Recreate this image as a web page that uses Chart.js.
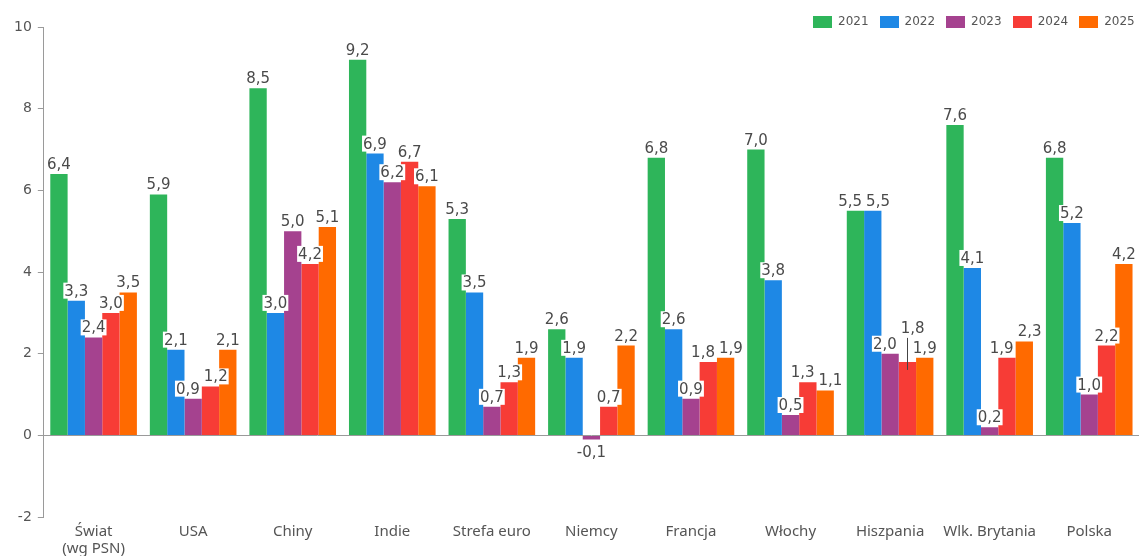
<!DOCTYPE html>
<html>
<head>
<meta charset="utf-8">
<script src="https://cdn.jsdelivr.net/npm/chart.js@4.4.1/dist/chart.umd.min.js"></script>
<style>
  html, body { margin: 0; padding: 0; background: #fff; }
  #wrap { position: relative; width: 1139px; height: 556px; }
  #legend { position: absolute; top: 15px; left: 813px; display: flex; font: 12px "DejaVu Sans", sans-serif; color: #555; }
  .item { display: flex; align-items: center; margin-right: 11px; line-height: 13px; }
  .swatch { width: 19px; height: 12px; margin-right: 6px; }
</style>
</head>
<body>
<div id="wrap">
  <canvas id="gdp-chart"></canvas>
  <div id="legend"></div>
</div>
<script>
'use strict';

// Data
const categories = [["Świat", "(wg PSN)"], "USA", "Chiny", "Indie", "Strefa euro", "Niemcy", "Francja", "Włochy", "Hiszpania", "Wlk. Brytania", "Polska"];
const years = ["2021", "2022", "2023", "2024", "2025"];
const growth2021 = [6.4, 5.9, 8.5, 9.2, 5.3, 2.6, 6.8, 7.0, 5.5, 7.6, 6.8];
const growth2022 = [3.3, 2.1, 3.0, 6.9, 3.5, 1.9, 2.6, 3.8, 5.5, 4.1, 5.2];
const growth2023 = [2.4, 0.9, 5.0, 6.2, 0.7, -0.1, 0.9, 0.5, 2.0, 0.2, 1.0];
const growth2024 = [3.0, 1.2, 4.2, 6.7, 1.3, 0.7, 1.8, 1.3, 1.8, 1.9, 2.2];
const growth2025 = [3.5, 2.1, 5.1, 6.1, 1.9, 2.2, 1.9, 1.1, 1.9, 2.3, 4.2];
const yTicks = [-2, 0, 2, 4, 6, 8, 10];

const seriesValues = [growth2021, growth2022, growth2023, growth2024, growth2025];
const seriesColors = ["#2eb55a", "#1e88e5", "#a5428f", "#f73c36", "#ff6a00"];
const axisGrey = "#9a9a9a";
const textGrey = "#555";


// Section 1: value labels drawn above (or below) each bar
const valueLabels = {
    id: "valueLabels",
    afterDatasetsDraw(chart, args, opts) {
        const ctx = chart.ctx;
        ctx.save();
        ctx.font = opts.font;
        ctx.textAlign = "center";
        ctx.textBaseline = "alphabetic";

        // one list of labels per category
        let groups = chart.data.labels.map(() => []);
        chart.data.datasets.forEach((ds, di) => {
            const meta = chart.getDatasetMeta(di);
            meta.data.forEach((bar, i) => {
                const value = ds.data[i];
                const text = value.toFixed(1).replace(".", ",");
                const width = ctx.measureText(text).width;
                const raised = opts.raised.find(r => r.dataset === di && r.index === i);
                const lift = raised ? raised.lift : 0;
                let baseline = value >= 0 ? bar.y - 5 - lift : bar.y + 17;
                groups[i].push({x: bar.x, barX: bar.x, baseline, text, width, raised, barTop: bar.y});
            });
        });

        // push neighbours apart when their texts would collide
        for (const group of groups) {
            for (let pass = 0; pass < 6; pass++) {
                for (let j = 0; j < group.length - 1; j++) {
                    const a = group[j];
                    const b = group[j + 1];
                    if (Math.abs(a.baseline - b.baseline) >= opts.minRowGap) continue;
                    const need = (a.width + b.width) / 2 + opts.gap;
                    const dist = b.x - a.x;
                    if (dist < need) {
                        const shift = (need - dist) / 2;
                        a.x -= shift;
                        b.x += shift;
                    }
                }
            }
        }
        const labels = groups.flat();

        // white boxes first, so no box covers another label's text
        ctx.fillStyle = "#fff";
        for (const l of labels) {
            if (l.raised) continue;
            ctx.fillRect(l.x - l.width / 2 - 1, l.baseline - 13, l.width + 2, 16);
        }

        ctx.fillStyle = opts.color;
        for (const l of labels) {
            ctx.fillText(l.text, l.x, l.baseline);
            if (l.raised) {
                ctx.strokeStyle = "#444";
                ctx.lineWidth = 1;
                ctx.beginPath();
                ctx.moveTo(Math.round(l.barX) + 0.5, l.baseline + 5);
                ctx.lineTo(Math.round(l.barX) + 0.5, l.barTop + 8);
                ctx.stroke();
            }
        }
        ctx.restore();
    }
};


// Section 2: chart
const datasets = years.map((year, i) => ({
    label: year,
    data: seriesValues[i],
    backgroundColor: seriesColors[i],
    categoryPercentage: 0.87,
    barPercentage: 1.0,
}));

const chartConfig = {
    type: "bar",
    data: {
        labels: categories,
        datasets: datasets,
    },
    options: {
        responsive: true,
        maintainAspectRatio: false,
        animation: false,
        layout: {
            padding: {top: 27, left: 8, right: 0, bottom: -7},
        },
        plugins: {
            legend: {display: false},
            tooltip: {enabled: false},
            valueLabels: {
                font: '15px "DejaVu Sans", sans-serif',
                color: "#4a4a4a",
                raised: [{dataset: 3, index: 8, lift: 24}],
                minRowGap: 18,
                gap: 4,
            },
        },
        scales: {
            x: {
                grid: {display: false, drawTicks: false},
                border: {display: false},
                ticks: {
                    color: textGrey,
                    font: {family: "Noto Sans", size: 15, lineHeight: 1.13},
                    padding: 6,
                    maxRotation: 0,
                    autoSkip: false,
                },
            },
            y: {
                min: -2,
                max: 10,
                afterBuildTicks: axis => {
                    axis.ticks = yTicks.map(v => ({value: v}));
                },
                ticks: {
                    color: textGrey,
                    font: {family: "DejaVu Sans", size: 14},
                    padding: 6,
                },
                grid: {
                    color: ctx => (ctx.tick && ctx.tick.value === 0) ? axisGrey : "rgba(0,0,0,0)",
                    tickColor: axisGrey,
                    tickLength: 6,
                },
                border: {color: axisGrey},
            },
        },
    },
    plugins: [valueLabels],
};

const gdpChart = new Chart(document.querySelector("#gdp-chart"), chartConfig);


// Section 3: legend
const legendBox = document.querySelector("#legend");
years.forEach((year, i) => {
    const item = document.createElement("div");
    item.className = "item";
    const swatch = document.createElement("span");
    swatch.className = "swatch";
    swatch.style.background = seriesColors[i];
    const label = document.createElement("span");
    label.innerText = year;
    item.appendChild(swatch);
    item.appendChild(label);
    legendBox.appendChild(item);
});
</script>
</body>
</html>
